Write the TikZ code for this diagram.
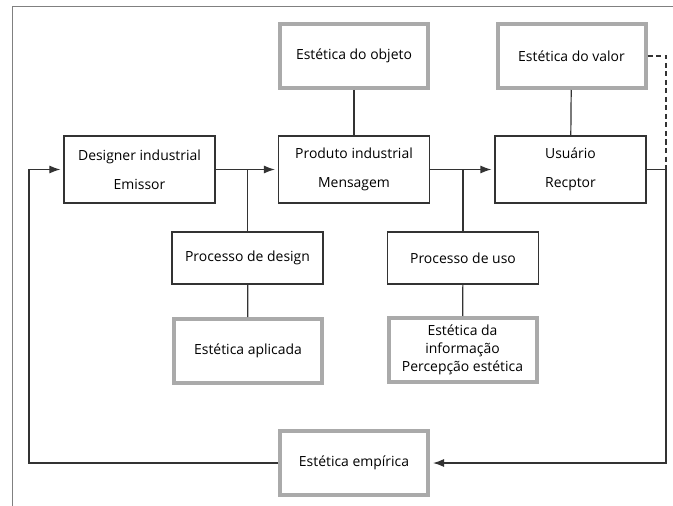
\documentclass[tikz,border=0pt]{standalone}
\usepackage{fontspec}
\setmainfont{Open Sans}
\usetikzlibrary{arrows.meta}
\definecolor{traco}{HTML}{333333}
\definecolor{borda}{HTML}{AAAAAA}
\tikzset{
  caixa/.style={draw=traco,line width=1.2bp,minimum width=151bp,minimum height=67bp,align=center,
    font=\fontsize{14}{29}\selectfont,inner sep=2bp},
  proc/.style={caixa,minimum height=52bp},
  estetica/.style={draw=borda,line width=4bp,minimum width=148bp,minimum height=64bp,align=center,
    font=\fontsize{14}{18}\selectfont,inner sep=2bp},
  liga/.style={draw=traco,line width=1.2bp},
  fluxo/.style={liga,-{Latex[length=11bp,width=8bp]},shorten >=3bp},
}
\begin{document}
\begin{tikzpicture}[x=1bp,y=-1bp]
\useasboundingbox (0,0) rectangle (673,506);
% moldura
\draw[gray,line width=0.8bp] (12,506)--(12,6)--(673,6);
% caixas
\node[caixa] (designer) at (139.5,169.5) {Designer industrial\\Emissor};
\node[caixa] (produto) at (354,169.5) {Produto industrial\\Mensagem};
\node[caixa] (usuario) at (570.5,169.5) {Usuário\\Recptor};
\node[estetica] (objeto) at (354,56) {Estética do objeto};
\node[estetica] (valor) at (571.5,56) {Estética do valor};
\node[proc] (pdesign) at (247.5,258) {Processo de design};
\node[proc] (puso) at (463,258) {Processo de uso};
\node[estetica] (aplicada) at (248,351) {Estética aplicada};
\node[estetica] (informacao) at (462.5,350) {Estética da\\informação\\Percepção estética};
\node[estetica] (empirica) at (354,463) {Estética empírica};
\coordinate (dir) at (666,300);
\coordinate (esq) at (29,300);
% ligacoes
\draw[fluxo] (designer.east)--(produto.west);
\draw[fluxo] (produto.east)--(usuario.west);
\draw[liga] (pdesign.north|-designer.east)--(pdesign.north);
\draw[liga] (puso.north|-produto.east)--(puso.north);
\draw[liga] (objeto)--(produto);
\draw[liga] (valor)--(usuario);
\draw[liga] (pdesign)--(aplicada);
\draw[liga] (puso)--(informacao);
% retorno
\draw[fluxo] (usuario.east)-|(dir)|-(empirica.east);
\draw[fluxo] (empirica.west)-|(esq)|-(designer.west);
\draw[liga,dash pattern=on 5bp off 3.5bp] (valor.east)-|(usuario.east-|dir);
\end{tikzpicture}
\end{document}
